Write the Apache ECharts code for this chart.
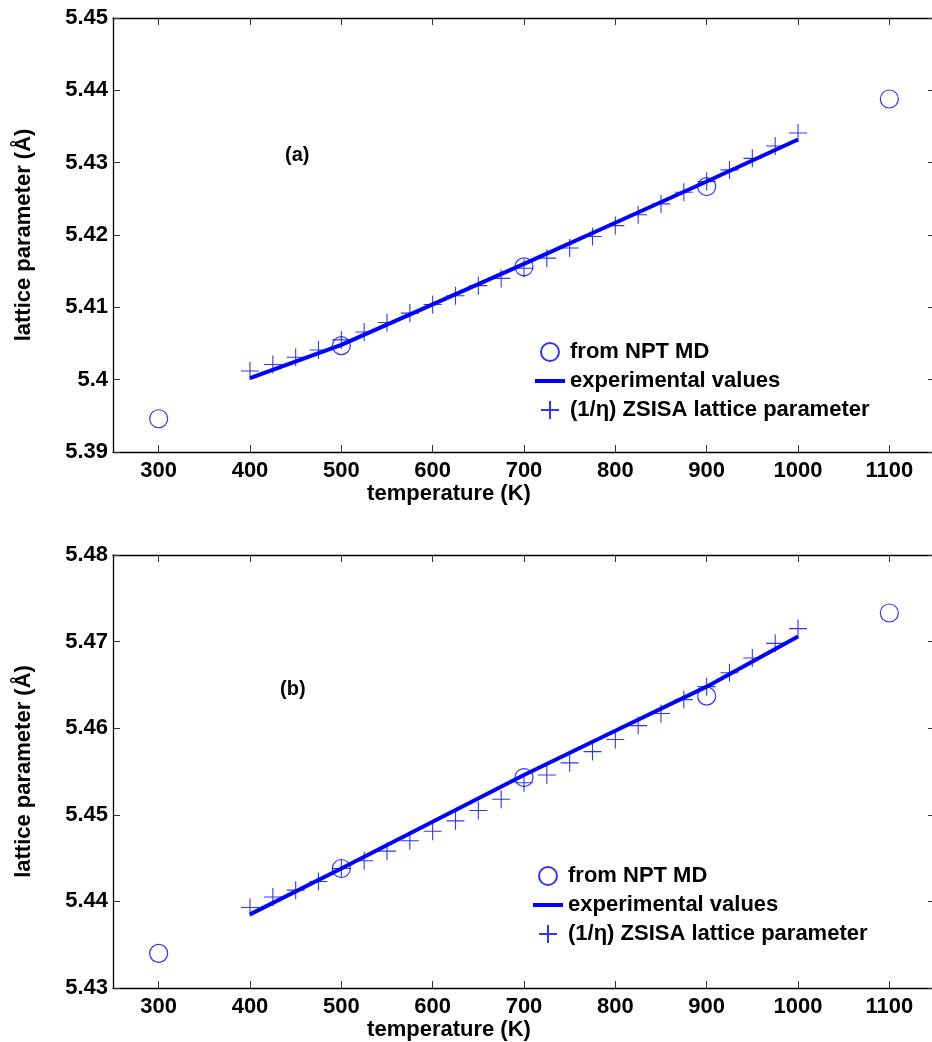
<!DOCTYPE html>
<html>
<head>
<meta charset="utf-8">
<script src="https://cdn.jsdelivr.net/npm/echarts@6/dist/echarts.min.js"></script>
<style>
html,body{margin:0;padding:0;background:#fff;}
#chart{width:932px;height:1042px;}
</style>
</head>
<body>
<div id="chart"></div>
<script>
// ---- data ----
var xTicks = [300, 400, 500, 600, 700, 800, 900, 1000, 1100];
var yTicksA = [5.39, 5.40, 5.41, 5.42, 5.43, 5.44, 5.45];
var yTicksB = [5.43, 5.44, 5.45, 5.46, 5.47, 5.48];

var mdTemps = [300, 500, 700, 900, 1100];
var mdA = [5.3946, 5.4047, 5.4156, 5.4267, 5.4388];
var mdB = [5.4340, 5.4438, 5.4543, 5.4637, 5.4733];

var expTemps = [400, 500, 600, 700, 800, 900, 1000];
var expA = [5.4002, 5.4048, 5.4104, 5.4160, 5.4217, 5.4274, 5.4332];
var expB = [5.4385, 5.4438, 5.4492, 5.4546, 5.4597, 5.4648, 5.4706];

var zsTemps = [400, 425, 450, 475, 500, 525, 550, 575, 600, 625, 650, 675, 700,
               725, 750, 775, 800, 825, 850, 875, 900, 925, 950, 975, 1000];
var zsA = [5.4012, 5.4021, 5.4031, 5.4041, 5.4055, 5.4066, 5.4079, 5.4092, 5.4104,
           5.4116, 5.4130, 5.4140, 5.4154, 5.4168, 5.4182, 5.4198, 5.4213, 5.4228,
           5.4243, 5.4259, 5.4274, 5.4290, 5.4306, 5.4323, 5.4341];
var zsB = [5.4393, 5.4405, 5.4413, 5.4423, 5.4438, 5.4447, 5.4458, 5.4470, 5.4481,
           5.4493, 5.4505, 5.4518, 5.4537, 5.4546, 5.4560, 5.4573, 5.4587, 5.4603,
           5.4617, 5.4633, 5.4648, 5.4664, 5.4681, 5.4698, 5.4715];

var NAME_MD = 'from NPT MD';
var NAME_EXP = 'experimental values';
var NAME_ZS = '(1/\u03b7) ZSISA lattice parameter';

// ---- helpers ----
function pairs(xs, ys) { return xs.map(function (x, i) { return [x, ys[i]]; }); }
var FONT = 'Liberation Sans';
var BLUE = '#0000ff';
var tickStyle = { show: true, inside: true, length: 7, lineStyle: { color: '#333', width: 1 } };
var lineStyleAxis = { show: true, lineStyle: { color: '#000', width: 1.3 } };
var labelStyle = { color: '#000', fontSize: 22, fontWeight: 'bold', fontFamily: FONT };
function fmtY(v) { return parseFloat(v.toFixed(2)).toString(); }
function fmtX(v) { return String(Math.round(v)); }

function xAxes(grid) {
  return [
    {
      type: 'value', gridIndex: grid, position: 'bottom', min: 250, max: 1150,
      axisLine: lineStyleAxis,
      axisTick: Object.assign({ customValues: xTicks }, tickStyle),
      axisLabel: Object.assign({ customValues: xTicks, margin: 8, formatter: fmtX }, labelStyle),
      splitLine: { show: false },
      name: 'temperature (K)', nameLocation: 'middle', nameGap: 26,
      nameTextStyle: Object.assign({ padding: [0, 150, 0, 0] }, labelStyle)
    },
    {
      type: 'value', gridIndex: grid, position: 'top', min: 250, max: 1150,
      axisLine: lineStyleAxis,
      axisTick: Object.assign({ customValues: xTicks }, tickStyle),
      axisLabel: { show: false },
      splitLine: { show: false }
    }
  ];
}
function yAxes(grid, lo, hi, ticks) {
  return [
    {
      type: 'value', gridIndex: grid, position: 'left', min: lo, max: hi,
      axisLine: lineStyleAxis,
      axisTick: Object.assign({ customValues: ticks }, tickStyle),
      axisLabel: Object.assign({ customValues: ticks, margin: 5, formatter: fmtY }, labelStyle),
      splitLine: { show: false },
      name: 'lattice parameter (\u00c5)', nameLocation: 'middle', nameGap: 78, nameRotate: 90,
      nameTextStyle: labelStyle
    },
    {
      type: 'value', gridIndex: grid, position: 'right', min: lo, max: hi,
      axisLine: lineStyleAxis,
      axisTick: Object.assign({ customValues: ticks }, tickStyle),
      axisLabel: { show: false },
      splitLine: { show: false }
    }
  ];
}
var PLUS = 'path://M0,-10 L0,10 M-10,0 L10,0';
function seriesFor(xi, yi, md, exp, zs) {
  return [
    {
      name: NAME_MD, type: 'scatter', xAxisIndex: xi, yAxisIndex: yi,
      symbol: 'circle', symbolSize: 18,
      itemStyle: { color: 'rgba(0,0,0,0)', borderColor: BLUE, borderWidth: 1.2 },
      data: pairs(mdTemps, md), z: 2
    },
    {
      name: NAME_EXP, type: 'line', xAxisIndex: xi, yAxisIndex: yi,
      symbol: 'none', lineStyle: { color: BLUE, width: 4 }, itemStyle: { color: BLUE },
      data: pairs(expTemps, exp), z: 3
    },
    {
      name: NAME_ZS, type: 'scatter', xAxisIndex: xi, yAxisIndex: yi,
      symbol: PLUS, symbolSize: 18, symbolKeepAspect: true,
      itemStyle: { color: 'rgba(0,0,0,0)', borderColor: BLUE, borderWidth: 1.1 },
      data: pairs(zsTemps, zs), z: 4
    }
  ];
}
function legendAt(left, top) {
  return {
    left: left, top: top, orient: 'vertical', itemWidth: 30, itemHeight: 18, itemGap: 7,
    padding: 0, selectedMode: false,
    textStyle: { color: '#000', fontSize: 22, fontWeight: 'bold', fontFamily: FONT },
    data: [
      NAME_MD,
      { name: NAME_EXP, itemStyle: { opacity: 0 }, lineStyle: { width: 4, color: BLUE } },
      NAME_ZS
    ]
  };
}

var chart = echarts.init(document.getElementById('chart'), null, { renderer: 'canvas' });
chart.setOption({
  animation: false,
  backgroundColor: '#fff',
  grid: [
    { left: 113, top: 18, width: 822, height: 434, outerBoundsMode: 'none', containLabel: false },
    { left: 113, top: 555, width: 822, height: 433, outerBoundsMode: 'none', containLabel: false }
  ],
  xAxis: xAxes(0).concat(xAxes(1)),
  yAxis: yAxes(0, 5.39, 5.45, yTicksA).concat(yAxes(1, 5.43, 5.48, yTicksB)),
  legend: [legendAt(533, 341), legendAt(531, 865)],
  graphic: [
    { type: 'text', left: 285, top: 145, style: { text: '(a)', fill: '#000', font: 'bold 20px "Liberation Sans"' } },
    { type: 'text', left: 280, top: 679, style: { text: '(b)', fill: '#000', font: 'bold 20px "Liberation Sans"' } }
  ],
  series: seriesFor(0, 0, mdA, expA, zsA).concat(seriesFor(2, 2, mdB, expB, zsB))
});
</script>
</body>
</html>
